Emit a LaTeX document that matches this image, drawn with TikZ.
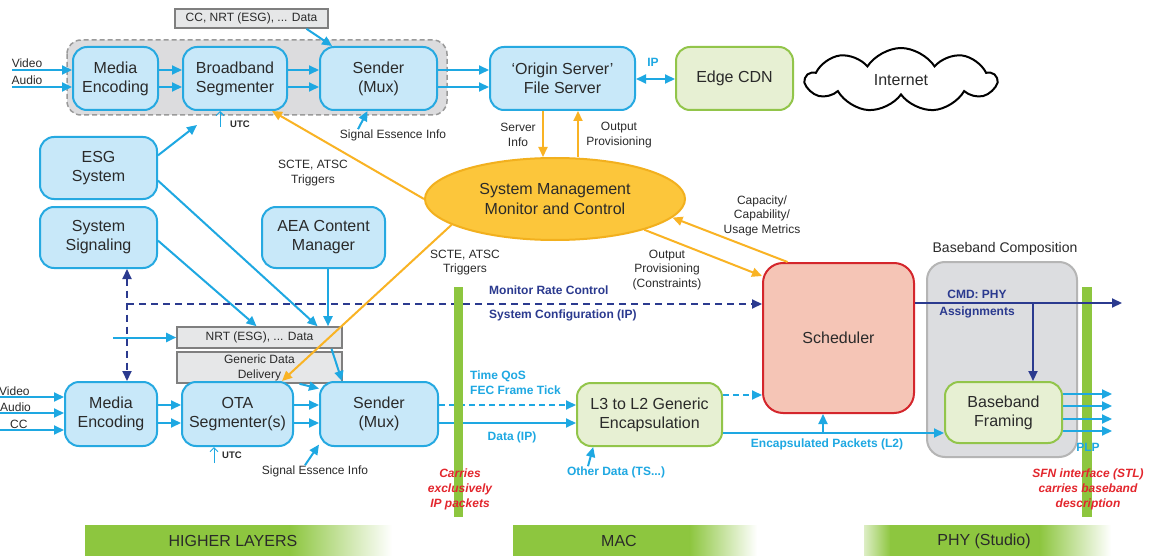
\documentclass[tikz,border=0pt]{standalone}
\usepackage{fontspec}
\setmainfont{Liberation Sans}
\usetikzlibrary{arrows.meta,calc,shapes.geometric,shapes.symbols}
\definecolor{bfill}{HTML}{C8E8F9}
\definecolor{bline}{HTML}{26A9E1}
\definecolor{barr}{HTML}{1EA8E2}
\definecolor{gfill}{HTML}{E7F0D3}
\definecolor{gline}{HTML}{92C54A}
\definecolor{sfill}{HTML}{F5C5B6}
\definecolor{sline}{HTML}{D4262C}
\definecolor{gyfill}{HTML}{E6E7E8}
\definecolor{gyline}{HTML}{7F7F7F}
\definecolor{contf}{HTML}{DCDCDE}
\definecolor{contb}{HTML}{9A9A9A}
\definecolor{bbcf}{HTML}{DCDDE0}
\definecolor{bbcb}{HTML}{B5B5B5}
\definecolor{ellf}{HTML}{FCC63B}
\definecolor{ellb}{HTML}{F2B01E}
\definecolor{yarr}{HTML}{F9B324}
\definecolor{navy}{HTML}{2B3A8F}
\definecolor{redt}{HTML}{E3262D}
\definecolor{txt}{HTML}{2A2A2A}
\definecolor{bandg}{HTML}{8DC63F}
\definecolor{bargreen}{HTML}{8DC63F}
\begin{document}
\begin{tikzpicture}[x=1pt,y=-1pt,
  >={Triangle[length=10pt,width=9pt]},
  box/.style={draw=bline, fill=bfill, line width=2pt, rounded corners=14pt, align=center,
    font=\fontsize{16}{19}\selectfont, text=txt, inner sep=0pt},
  greenbox/.style={box, draw=gline, fill=gfill},
  graybox/.style={draw=gyline, fill=gyfill, line width=1.6pt, align=center,
    font=\fontsize{12}{14}\selectfont, text=txt, inner sep=0pt},
  barrow/.style={->, draw=barr, line width=2pt},
  thinar/.style={-{Straight Barb[length=4pt,width=8pt]}, draw=barr, line width=1pt},
  yarrow/.style={->, draw=yarr, line width=2pt},
  narrow/.style={->, draw=navy, line width=2pt},
  ndash/.style={dash pattern=on 7pt off 5pt},
  lbl/.style={font=\fontsize{12}{14.5}\selectfont, text=txt, align=center, inner sep=0pt},
  blbl/.style={font=\bfseries\fontsize{12}{15}\selectfont, text=barr, align=left, inner sep=0pt},
  nlbl/.style={font=\bfseries\fontsize{12}{15}\selectfont, text=navy, align=left, inner sep=0pt},
  rlbl/.style={font=\bfseries\itshape\fontsize{12}{15}\selectfont, text=redt, align=center, inner sep=0pt},
  bandlbl/.style={font=\fontsize{16}{18}\selectfont, text=txt, inner sep=0pt}
]
\useasboundingbox (0,0) rectangle (1158,556);
\fill[white] (0,0) rectangle (1158,556);

% backgrounds
\draw[draw=contb, fill=contf, line width=1.5pt, rounded corners=14pt, dash pattern=on 5pt off 3pt] (67,40) rectangle (447,115);
\draw[draw=bbcb, fill=bbcf, line width=2pt, rounded corners=18pt] (927,262) rectangle (1077,457);
\node[font=\fontsize{14}{16}\selectfont, text=txt, inner sep=0pt] (bbclab) at (1005,249) {Baseband Composition};

% top row
\node[graybox, minimum width=153pt, minimum height=19pt] (ccdata) at (251.5,18.5) {CC, NRT (ESG), ... Data};
\node[box, minimum width=85pt, minimum height=63pt] (mediaT) at (115.5,78.5) {Media\\Encoding};
\node[box, minimum width=104pt, minimum height=63pt] (bbseg) at (235,78.5) {Broadband\\Segmenter};
\node[box, minimum width=117pt, minimum height=63pt] (senderT) at (378.5,78.5) {Sender\\(Mux)};
\node[box, minimum width=145pt, minimum height=63pt] (origin) at (562.5,78.5) {‘Origin Server’\\File Server};
\node[greenbox, minimum width=117pt, minimum height=63pt] (edge) at (734.5,78.5) {Edge CDN};
\node[cloud, draw=black, line width=2pt, fill=white, cloud puffs=9, cloud puff arc=115, aspect=2.6,
  minimum width=190pt, minimum height=64pt, inner sep=0pt, font=\fontsize{16}{19}\selectfont, text=txt] (inet) at (901,80) {Internet};

% left column
\node[box, minimum width=117pt, minimum height=62pt] (esg) at (98.5,168) {ESG\\System};
\node[box, minimum width=117pt, minimum height=61pt] (syssig) at (98.5,237.5) {System\\Signaling};
\node[box, minimum width=123pt, minimum height=61pt] (aea) at (323.5,237.5) {AEA Content\\Manager};

% management
\node[ellipse, draw=ellb, fill=ellf, line width=2pt, minimum width=260pt, minimum height=82pt,
  inner sep=0pt, align=center, font=\fontsize{16}{20}\selectfont, text=txt] (sysmgmt) at (555,199) {System Management\\Monitor and Control};

% data boxes
\node[graybox, minimum width=165pt, minimum height=21pt] (nrt) at (259.5,337.5) {NRT (ESG), ... Data};
\node[graybox, minimum width=165pt, minimum height=31pt, font=\fontsize{12}{15}\selectfont] (gdd) at (259.5,367.5) {Generic Data\\Delivery};

% bottom row
\node[box, minimum width=92pt, minimum height=64pt] (mediaB) at (111,414) {Media\\Encoding};
\node[box, minimum width=111pt, minimum height=64pt] (ota) at (237.5,414) {OTA\\Segmenter(s)};
\node[box, minimum width=118pt, minimum height=64pt] (senderB) at (379,414) {Sender\\(Mux)};
\node[greenbox, minimum width=145pt, minimum height=63pt] (l3) at (649.5,414.5) {L3 to L2 Generic\\Encapsulation};
\node[box, draw=sline, fill=sfill, rounded corners=20pt, minimum width=151pt, minimum height=150pt] (sched) at (838.5,338) {Scheduler};
\node[greenbox, minimum width=117pt, minimum height=61pt] (bbframe) at (1003.5,412.5) {Baseband\\Framing};

% ---- top row connectors
\coordinate (vinT) at (12,70);
\coordinate (ainT) at (12,87);
\node[lbl, anchor=base] (vidT) at (27,68) {Video};
\node[lbl, anchor=base] (audT) at (27,85) {Audio};
\draw[barrow] (vinT) -- (vinT -| mediaT.west);
\draw[barrow] (ainT) -- (ainT -| mediaT.west);
\draw[barrow] (mediaT.east |- vinT) -- (bbseg.west |- vinT);
\draw[barrow] (mediaT.east |- ainT) -- (bbseg.west |- ainT);
\draw[barrow] (bbseg.east |- vinT) -- (senderT.west |- vinT);
\draw[barrow] (bbseg.east |- ainT) -- (senderT.west |- ainT);
\draw[barrow] (senderT.east |- vinT) -- (origin.west |- vinT);
\draw[barrow] (senderT.east |- ainT) -- (origin.west |- ainT);
\coordinate (ipy) at (0,79);
\draw[barrow, <->] (origin.east |- ipy) -- (edge.west |- ipy);
\node[blbl] (iplab) at (653,62) {IP};
\draw[barrow] ($(ccdata.south)+(55,0)$) -- (senderT.145);
\coordinate (utcT) at (220,127);
\draw[thinar] (utcT) -- (utcT |- bbseg.south);
\node[font=\bfseries\fontsize{9.5}{11}\selectfont, text=txt, anchor=west, inner sep=0pt] (utcTl) at (230,124) {UTC};
\node[lbl] (sigT) at (393,135) {Signal Essence Info};
\draw[barrow] ($(sigT.north)+(-35,0)$) -- ($(senderT.south)+(-11,0)$);

% ESG, signaling, AEA
\coordinate (esgUp) at (197,125);
\draw[barrow] (esg.12) -- (esgUp);
\draw[barrow] (esg.-12) -- ($(nrt.north)+(58,0)$);
\draw[barrow] (syssig.-3) -- ($(nrt.north)+(-3,0)$);
\coordinate (aeax) at ($(aea.south)+(4.5,0)$);
\draw[barrow] (aeax) -- (aeax |- nrt.north);
\coordinate (nrtin) at (113,337.5);
\draw[barrow] (nrtin) -- (nrt.west);

% navy dashed
\coordinate (nvx) at (127,0);
\draw[narrow, <->, ndash] (syssig.south -| nvx) -- (mediaB.north -| nvx);
\coordinate (mrc) at (127,304);
\draw[narrow, ndash] (mrc) -- (mrc -| sched.west);
\node[nlbl, anchor=west] (mrclab) at (489,290) {Monitor Rate Control};
\node[nlbl, anchor=west] (sclab) at (489,315) {System Configuration (IP)};

% data boxes to sender
\draw[barrow] ($(nrt.south)+(72,0)$) -- ($(senderB.north)+(-37,0)$);
\draw[barrow] ($(gdd.south)+(40,0)$) -- (senderB.157);

% bottom row connectors
\coordinate (vinB) at (0,397);
\coordinate (ainB) at (0,413);
\coordinate (cinB) at (0,430);
\node[lbl, anchor=base west] (vidB) at (-1,395) {Video};
\node[lbl, anchor=base west] (audB) at (0,411) {Audio};
\node[lbl, anchor=base west] (ccB) at (10,428) {CC};
\draw[barrow] (vinB) -- (vinB -| mediaB.west);
\draw[barrow] (ainB) -- (ainB -| mediaB.west);
\draw[barrow] (cinB) -- (cinB -| mediaB.west);
\coordinate (r1) at (0,405);
\coordinate (r2) at (0,423);
\draw[barrow] (mediaB.east |- r1) -- (ota.west |- r1);
\draw[barrow] (mediaB.east |- r2) -- (ota.west |- r2);
\draw[barrow] (ota.east |- r1) -- (senderB.west |- r1);
\draw[barrow] (ota.east |- r2) -- (senderB.west |- r2);
\draw[barrow, dash pattern=on 6pt off 4pt] (senderB.east |- r1) -- (l3.west |- r1);
\draw[barrow] (senderB.east |- r2) -- (l3.west |- r2);
\node[blbl, anchor=west] (tqos) at (470,376) {Time QoS};
\node[blbl, anchor=west] (fec) at (470,390) {FEC Frame Tick};
\node[blbl] (dataip) at (512,437) {Data (IP)};
\coordinate (utcB) at (214,463);
\draw[thinar] (utcB) -- (utcB |- ota.south);
\node[font=\bfseries\fontsize{9.5}{11}\selectfont, text=txt, anchor=west, inner sep=0pt] (utcBl) at (222,455) {UTC};
\node[lbl] (sigB) at (315,471) {Signal Essence Info};
\draw[barrow] ($(sigB.north)+(-10,0)$) -- (senderB.207);

% MAC
\node[blbl] (othr) at (616,472) {Other Data (TS...)};
\draw[barrow] ($(othr.north)+(-28,0)$) -- (l3.210);
\coordinate (r3) at (0,395);
\draw[barrow, dash pattern=on 6pt off 4pt] (l3.east |- r3) -- (sched.west |- r3);
\coordinate (r4) at (0,433);
\draw[barrow] (l3.east |- r4) -- (bbframe.west |- r4);
\coordinate (encx) at (823,433);
\draw[barrow] (encx) -- (encx |- sched.south);
\node[blbl] (enclab) at (827,444) {Encapsulated Packets (L2)};

% yellow management connectors
\draw[yarrow] (sysmgmt.180) -- ($(bbseg.south)+(37,0)$);
\node[lbl] (scteT) at (313,173) {SCTE, ATSC\\Triggers};
\draw[yarrow] (sysmgmt.194) -- ($(ota.north)+(44.5,0)$);
\node[lbl] (scteB) at (465,262.5) {SCTE, ATSC\\Triggers};
\coordinate (srvx) at (543,0);
\draw[yarrow] (origin.south -| srvx) -- (sysmgmt.north -| srvx);
\node[lbl] (srvlab) at (518,135) {Server\\Info};
\coordinate (opx) at (578,0);
\draw[yarrow] (sysmgmt.north -| opx) -- (origin.south -| opx);
\node[lbl] (oplab) at (619,135) {Output\\Provisioning};
\draw[yarrow] ($(sched.north)+(-51,0)$) -- (sysmgmt.-9);
\node[lbl] (caplab) at (762,215.5) {Capacity/\\Capability/\\Usage Metrics};
\draw[yarrow] (sysmgmt.-19) -- ($(sched.north west)+(0,14)$);
\node[lbl] (opclab) at (667,270) {Output\\Provisioning\\(Constraints)};

% PHY
\coordinate (cmdEnd) at (1122,303);
\coordinate (cmdx) at (1033,303);
\fill[bargreen] (1082,287) rectangle (1092,517);
\draw[narrow] (sched.east |- cmdEnd) -- (cmdEnd);
\draw[narrow] (cmdx) -- (cmdx |- bbframe.north);
\node[nlbl, align=center, font=\bfseries\fontsize{12}{17}\selectfont] (cmdlab) at (977,304.5) {CMD: PHY\\Assignments};
\foreach \yy/\nm in {394/o1,406/o2,419/o3,431/o4}{
  \coordinate (\nm) at (1112,\yy);
  \draw[barrow] (bbframe.east |- \nm) -- (\nm);
}
\node[blbl] (plp) at (1088,447) {PLP};
\node[rlbl] (sfn) at (1088,489.5) {SFN interface (STL)\\carries baseband\\description};

% bar 1
\fill[bargreen] (454,287) rectangle (463,517);
\node[rlbl] (carries) at (460,489) {Carries\\exclusively\\IP packets};

% bottom bands
\fill[bandg] (85,525) rectangle (290,556);
\shade[left color=bandg, right color=white] (289.5,525) rectangle (392,556);
\fill[bandg] (513,525) rectangle (690,556);
\shade[left color=bandg, right color=white] (689.5,525) rectangle (757,556);
\shade[left color=bandg!30, right color=bandg] (864,525) rectangle (890.5,556);
\fill[bandg] (890,525) rectangle (1040,556);
\shade[left color=bandg, right color=white] (1039.5,525) rectangle (1111,556);
\node[bandlbl] (hl) at (233,541) {HIGHER LAYERS};
\node[bandlbl] (mac) at (619,541) {MAC};
\node[bandlbl] (phy) at (984,541) {PHY (Studio)};
\end{tikzpicture}
\end{document}
